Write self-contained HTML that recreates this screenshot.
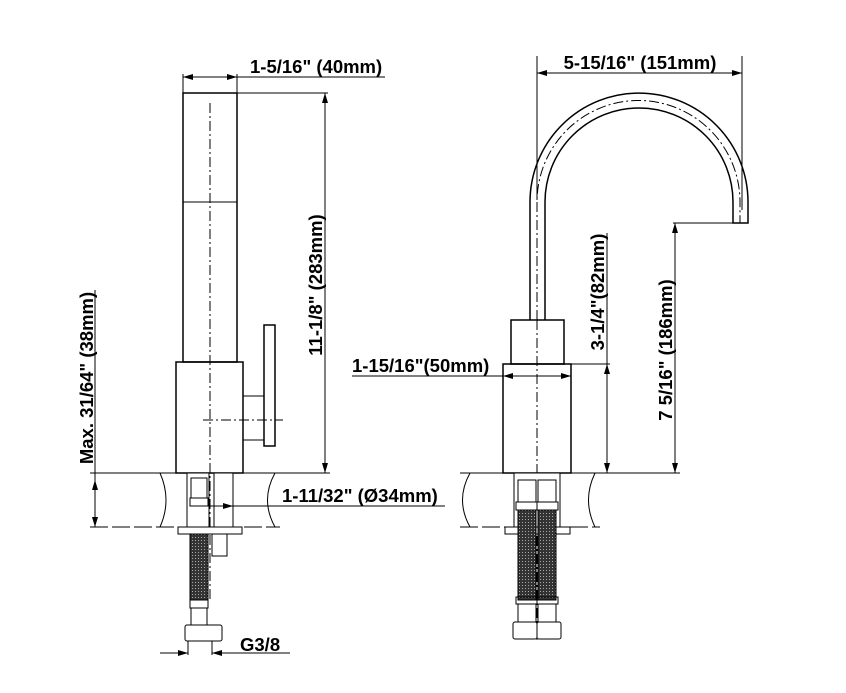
<!DOCTYPE html>
<html><head><meta charset="utf-8"><style>
html,body{margin:0;padding:0;background:#fff}
svg{display:block}
text{font-family:"Liberation Sans",Arial,sans-serif;font-weight:bold;font-size:18.5px;fill:#000}
</style></head><body>
<svg width="846" height="693" viewBox="0 0 846 693" xmlns="http://www.w3.org/2000/svg">
<defs>
<marker id="a" viewBox="0 0 10 6" refX="10" refY="3" markerWidth="10" markerHeight="6" orient="auto-start-reverse" markerUnits="userSpaceOnUse"><path d="M0,0 L10,3 L0,6 z" fill="#000"/></marker>
<pattern id="h" width="3" height="3" patternUnits="userSpaceOnUse"><rect width="3" height="3" fill="#333"/><rect width="1" height="1" fill="#aaa"/></pattern>
</defs>
<g stroke="#000" fill="none" stroke-width="1">
<!-- LEFT VIEW -->
<rect x="183" y="93" width="54" height="269" stroke-width="1.5"/>
<line x1="183" y1="202" x2="237" y2="202"/>
<rect x="176" y="362" width="67" height="111" stroke-width="1.5"/>
<rect x="243" y="396" width="21" height="44"/>
<rect x="264" y="325" width="11" height="121" stroke-width="1.5"/>
<line x1="210" y1="103" x2="210" y2="600" stroke-dasharray="10,3,2,3"/>
<line x1="203" y1="420" x2="283" y2="420" stroke-dasharray="10,3,2,3"/>
<line x1="183" y1="93" x2="183" y2="74"/><line x1="237" y1="93" x2="237" y2="74"/>
<line x1="183" y1="77" x2="237" y2="77" marker-start="url(#a)" marker-end="url(#a)"/>
<line x1="237" y1="77" x2="385" y2="77"/>
<line x1="237" y1="93" x2="328" y2="93"/>
<line x1="325" y1="93" x2="325" y2="473" marker-start="url(#a)" marker-end="url(#a)"/>
<line x1="90" y1="473" x2="330" y2="473"/>
<line x1="90" y1="527" x2="280" y2="527" stroke-dasharray="18,4" />
<line x1="95" y1="290" x2="95" y2="527"/>
<line x1="95" y1="480" x2="95" y2="527" marker-start="url(#a)" marker-end="url(#a)"/>
<path d="M160,473 Q172,500 160,527"/>
<path d="M275,473 Q260,500 275,527"/>
<rect x="187" y="473" width="22" height="54" fill="#fff"/>
<rect x="214" y="473" width="19" height="54" fill="#fff"/>
<rect x="191" y="478" width="16" height="20"/>
<rect x="190" y="498" width="18" height="8"/>
<line x1="195" y1="506" x2="445" y2="506"/>
<line x1="228" y1="506" x2="233" y2="506" marker-end="url(#a)"/>
<rect x="178" y="527" width="64" height="7" fill="#fff"/>
<rect x="190" y="534" width="18" height="66" fill="url(#h)"/>
<rect x="212" y="534" width="15" height="22"/>
<rect x="190" y="600" width="18" height="8"/>
<rect x="191" y="608" width="16" height="17"/>
<rect x="185" y="625" width="37" height="16" rx="2"/>
<line x1="188" y1="641" x2="188" y2="655"/><line x1="212" y1="641" x2="212" y2="655"/>
<line x1="160" y1="653" x2="188" y2="653" marker-end="url(#a)"/>
<line x1="290" y1="653" x2="212" y2="653" marker-end="url(#a)"/>
<!-- RIGHT VIEW -->
<path d="M530,320 L530,202 A109,109 0 0 1 748,202 L748,223 L733,223 L733,202 A94,94 0 0 0 545,202 L545,320" stroke-width="1.5"/>
<path d="M537,320 L537,202 A101.5,101.5 0 0 1 740,202 L740,223" stroke-dasharray="10,3,2,3"/>
<rect x="511" y="320" width="53" height="44" stroke-width="1.5"/>
<rect x="503" y="364" width="68" height="109" stroke-width="1.5"/>
<line x1="537" y1="320" x2="537" y2="640" stroke-dasharray="10,3,2,3"/>
<line x1="537" y1="56" x2="537" y2="200"/><line x1="742" y1="56" x2="742" y2="210"/>
<line x1="537" y1="73" x2="742" y2="73" marker-start="url(#a)" marker-end="url(#a)"/>
<line x1="673" y1="223" x2="748" y2="223"/>
<line x1="675" y1="223" x2="675" y2="473" marker-start="url(#a)" marker-end="url(#a)"/>
<line x1="571" y1="364" x2="610" y2="364"/>
<line x1="607" y1="233" x2="607" y2="364"/>
<line x1="607" y1="364" x2="607" y2="473" marker-start="url(#a)" marker-end="url(#a)"/>
<line x1="352" y1="376" x2="503" y2="376"/>
<line x1="503" y1="376" x2="571" y2="376" marker-start="url(#a)" marker-end="url(#a)"/>
<line x1="460" y1="473" x2="680" y2="473"/>
<line x1="460" y1="527" x2="600" y2="527" stroke-dasharray="18,4"/>
<path d="M470,473 Q455,500 470,527"/>
<path d="M595,473 Q582,500 595,527"/>
<rect x="514" y="473" width="46" height="54" fill="#fff"/>
<rect x="518" y="480" width="18" height="22"/><rect x="538" y="480" width="18" height="22"/>
<rect x="516" y="502" width="21" height="8"/><rect x="537" y="502" width="21" height="8"/>
<rect x="505" y="527" width="65" height="7" fill="#fff"/>
<rect x="518" y="510" width="18" height="90" fill="url(#h)"/>
<rect x="538" y="510" width="18" height="90" fill="url(#h)"/>
<rect x="516" y="597" width="21" height="7"/><rect x="537" y="597" width="21" height="7"/>
<rect x="518" y="604" width="18" height="18"/><rect x="538" y="604" width="18" height="18"/>
<rect x="513" y="622" width="24" height="17" rx="2"/><rect x="537" y="622" width="24" height="17" rx="2"/>
</g>
<text x="250" y="73">1-5/16" (40mm)</text>
<text transform="translate(322,285) rotate(-90)" text-anchor="middle">11-1/8" (283mm)</text>
<text transform="translate(93,378) rotate(-90)" text-anchor="middle">Max. 31/64" (38mm)</text>
<text x="282" y="502">1-11/32" (Ø34mm)</text>
<text x="240" y="651">G3/8</text>
<text x="640" y="69" text-anchor="middle">5-15/16" (151mm)</text>
<text transform="translate(604,292) rotate(-90)" text-anchor="middle">3-1/4"(82mm)</text>
<text transform="translate(672,350) rotate(-90)" text-anchor="middle">7 5/16" (186mm)</text>
<text x="352" y="372">1-15/16"(50mm)</text>
</svg>
</body></html>
